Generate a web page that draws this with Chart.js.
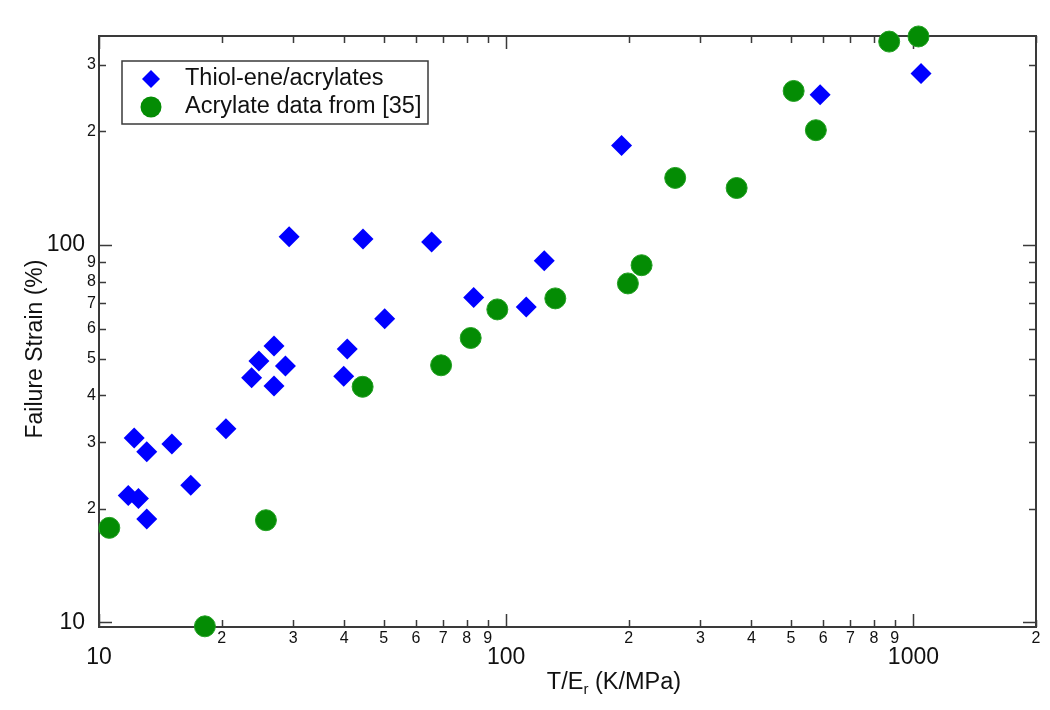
<!DOCTYPE html>
<html>
<head>
<meta charset="utf-8">
<script src="https://cdn.jsdelivr.net/npm/chart.js@4"></script>
<style>
  body { margin: 0; background: #fff; }
  canvas { display: block; }
</style>
</head>
<body>
<canvas id="strainChart" width="1050" height="710"></canvas>
<script>

// tick values and labels (matlab style log axes)
const xTickValues = [10, 20, 30, 40, 50, 60, 70, 80, 90, 100, 200, 300, 400, 500, 600, 700, 800, 900, 1000, 2000];
const xTickLabels = ['10', '2', '3', '4', '5', '6', '7', '8', '9', '100', '2', '3', '4', '5', '6', '7', '8', '9', '1000', '2'];
const yTickValues = [10, 20, 30, 40, 50, 60, 70, 80, 90, 100, 200, 300];
const yTickLabels = ['10', '2', '3', '4', '5', '6', '7', '8', '9', '100', '2', '3'];
const majorTicks = [10, 100, 1000];

// Thiol-ene/acrylates
const thiolX = [11.8, 12.5, 12.2, 13.1, 13.1, 15.1, 16.8, 20.5, 23.7, 24.7, 26.9, 26.9, 28.7, 29.3, 39.9, 40.7, 44.5, 50.3, 65.6, 83.2, 112, 124, 192, 590, 1044];
const thiolY = [21.7, 21.3, 30.8, 28.3, 18.8, 29.7, 23.1, 32.6, 44.5, 49.3, 54.0, 42.3, 47.8, 105.2, 44.9, 53.0, 103.7, 63.8, 101.9, 72.6, 68.5, 90.9, 183.4, 250, 284.7];

// Acrylate data from [35]
const acrylX = [10.6, 18.2, 25.7, 44.4, 69.2, 81.8, 95.1, 132, 199, 215, 260, 368, 508, 576, 872, 1029];
const acrylY = [17.8, 9.76, 18.65, 42.1, 48.0, 56.7, 67.5, 72.2, 79.1, 88.4, 150.6, 141.6, 256, 201.5, 346, 357];

const seriesNames = ['Thiol-ene/acrylates', 'Acrylate data from [35]'];

function toPoints(xs, ys) {
    let pts = [];
    for (let i = 0; i < xs.length; i++) {
        pts.push({ x: xs[i], y: ys[i] });
    }
    return pts;
}

const axisColor = '#3a3a3a';
const fontFamily = "'Liberation Sans', Arial, sans-serif";

// box around the plot with inward ticks on all four sides
const frameTicks = {
    id: 'frameTicks',
    beforeDatasetsDraw(chart) {
        const ctx = chart.ctx;
        const a = chart.chartArea;
        const xs = chart.scales.x;
        const ys = chart.scales.y;
        ctx.save();
        ctx.strokeStyle = axisColor;
        ctx.lineWidth = 1.5;
        ctx.beginPath();
        xTickValues.forEach(v => {
            const px = Math.round(xs.getPixelForValue(v)) + 0.5;
            const len = majorTicks.includes(v) ? 13 : 7;
            ctx.moveTo(px, a.bottom); ctx.lineTo(px, a.bottom - len);
            ctx.moveTo(px, a.top); ctx.lineTo(px, a.top + len);
        });
        yTickValues.forEach(v => {
            const py = Math.round(ys.getPixelForValue(v)) + 0.5;
            const len = majorTicks.includes(v) ? 13 : 7;
            ctx.moveTo(a.left, py); ctx.lineTo(a.left + len, py);
            ctx.moveTo(a.right, py); ctx.lineTo(a.right - len, py);
        });
        ctx.stroke();
        ctx.lineWidth = 2;
        ctx.strokeRect(a.left, a.top, a.right - a.left, a.bottom - a.top);
        ctx.restore();
    }
};

// axis titles (x title has a subscript r) and the boxed legend
const titlesAndLegend = {
    id: 'titlesAndLegend',
    afterDatasetsDraw(chart) {
        const ctx = chart.ctx;
        const a = chart.chartArea;
        ctx.save();
        ctx.fillStyle = '#111';

        // y title
        ctx.font = '23px ' + fontFamily;
        ctx.translate(a.left - 63, a.top + 313);
        ctx.rotate(-Math.PI / 2);
        ctx.textAlign = 'center';
        ctx.textBaseline = 'middle';
        ctx.fillText('Failure Strain (%)', 0, 0);
        ctx.setTransform(1, 0, 0, 1, 0, 0);

        // x title
        const big = '23.5px ' + fontFamily;
        const small = '15px ' + fontFamily;
        ctx.textAlign = 'left';
        ctx.textBaseline = 'alphabetic';
        ctx.font = big;
        const w1 = ctx.measureText('T/E').width;
        const w3 = ctx.measureText(' (K/MPa)').width;
        ctx.font = small;
        const w2 = ctx.measureText('r').width;
        let tx = a.left + 515 - (w1 + w2 + w3) / 2;
        const ty = a.bottom + 62;
        ctx.font = big;
        ctx.fillText('T/E', tx, ty);
        ctx.font = small;
        ctx.fillText('r', tx + w1, ty + 5);
        ctx.font = big;
        ctx.fillText(' (K/MPa)', tx + w1 + w2, ty);

        // legend
        const lx = a.left + 23, ly = a.top + 25, lw = 306, lh = 63;
        ctx.fillStyle = '#fff';
        ctx.fillRect(lx, ly, lw, lh);
        ctx.strokeStyle = axisColor;
        ctx.lineWidth = 1.5;
        ctx.strokeRect(lx, ly, lw, lh);

        const ds = chart.data.datasets;
        const rows = [ly + 18, ly + 46];
        ds.forEach((d, i) => {
            const cx = lx + 29, cy = rows[i];
            ctx.fillStyle = d.backgroundColor;
            ctx.beginPath();
            if (d.pointStyle === 'rectRot') {
                const r = 9;
                ctx.moveTo(cx - r, cy); ctx.lineTo(cx, cy - r);
                ctx.lineTo(cx + r, cy); ctx.lineTo(cx, cy + r);
                ctx.closePath();
            } else {
                ctx.arc(cx, cy, 10.5, 0, Math.PI * 2);
            }
            ctx.fill();
            ctx.fillStyle = '#111';
            ctx.font = '23.5px ' + fontFamily;
            ctx.textBaseline = 'middle';
            ctx.fillText(d.label, lx + 63, cy);
        });
        ctx.restore();
    }
};

let ctx = document.getElementById('strainChart').getContext('2d');

data = {
    datasets: [{
        label: seriesNames[0],
        data: toPoints(thiolX, thiolY),
        pointStyle: 'rectRot',
        pointRadius: 10.5,
        pointBorderWidth: 0,
        backgroundColor: '#0000ff',
        borderColor: '#0000ff',
        clip: false,
        order: 1
    }, {
        label: seriesNames[1],
        data: toPoints(acrylX, acrylY),
        pointStyle: 'circle',
        pointRadius: 10.5,
        pointBorderWidth: 1,
        backgroundColor: '#048c04',
        borderColor: '#22a022',
        clip: false,
        order: 0
    }]
};

let strainChart = new Chart(ctx, {
    type: 'scatter',
    data: data,
    plugins: [frameTicks, titlesAndLegend],
    options: {
        responsive: false,
        animation: false,
        layout: { padding: { top: 36, right: 14, bottom: 0, left: 0 } },
        plugins: {
            legend: { display: false },
            tooltip: { enabled: false }
        },
        scales: {
            x: {
                type: 'logarithmic',
                min: 10,
                max: 2000,
                bounds: 'data',
                grid: { display: false, drawTicks: false },
                border: { display: false },
                afterBuildTicks: (scale) => {
                    scale.ticks = xTickValues.map(v => ({ value: v }));
                },
                afterFit: (scale) => { scale.height = 83; },
                ticks: {
                    autoSkip: false,
                    maxRotation: 0,
                    padding: 2,
                    color: '#111',
                    callback: (value) => xTickLabels[xTickValues.indexOf(value)],
                    font: (c) => majorTicks.includes(c.tick && c.tick.value)
                        ? { family: fontFamily, size: 23, lineHeight: 2.52 }
                        : { family: fontFamily, size: 16, lineHeight: 1.15 }
                }
            },
            y: {
                type: 'logarithmic',
                min: 9.72,
                max: 358,
                bounds: 'data',
                grid: { display: false, drawTicks: false },
                border: { display: false },
                afterBuildTicks: (scale) => {
                    scale.ticks = yTickValues.map(v => ({ value: v }));
                },
                afterFit: (scale) => { scale.width = 99; },
                ticks: {
                    autoSkip: false,
                    padding: 3,
                    color: '#111',
                    callback: (value) => {
                        const lab = yTickLabels[yTickValues.indexOf(value)];
                        return majorTicks.includes(value) ? lab + ' \u2009' : lab;
                    },
                    font: (c) => majorTicks.includes(c.tick && c.tick.value)
                        ? { family: fontFamily, size: 23 }
                        : { family: fontFamily, size: 16 }
                }
            }
        }
    }
});
</script>
</body>
</html>
